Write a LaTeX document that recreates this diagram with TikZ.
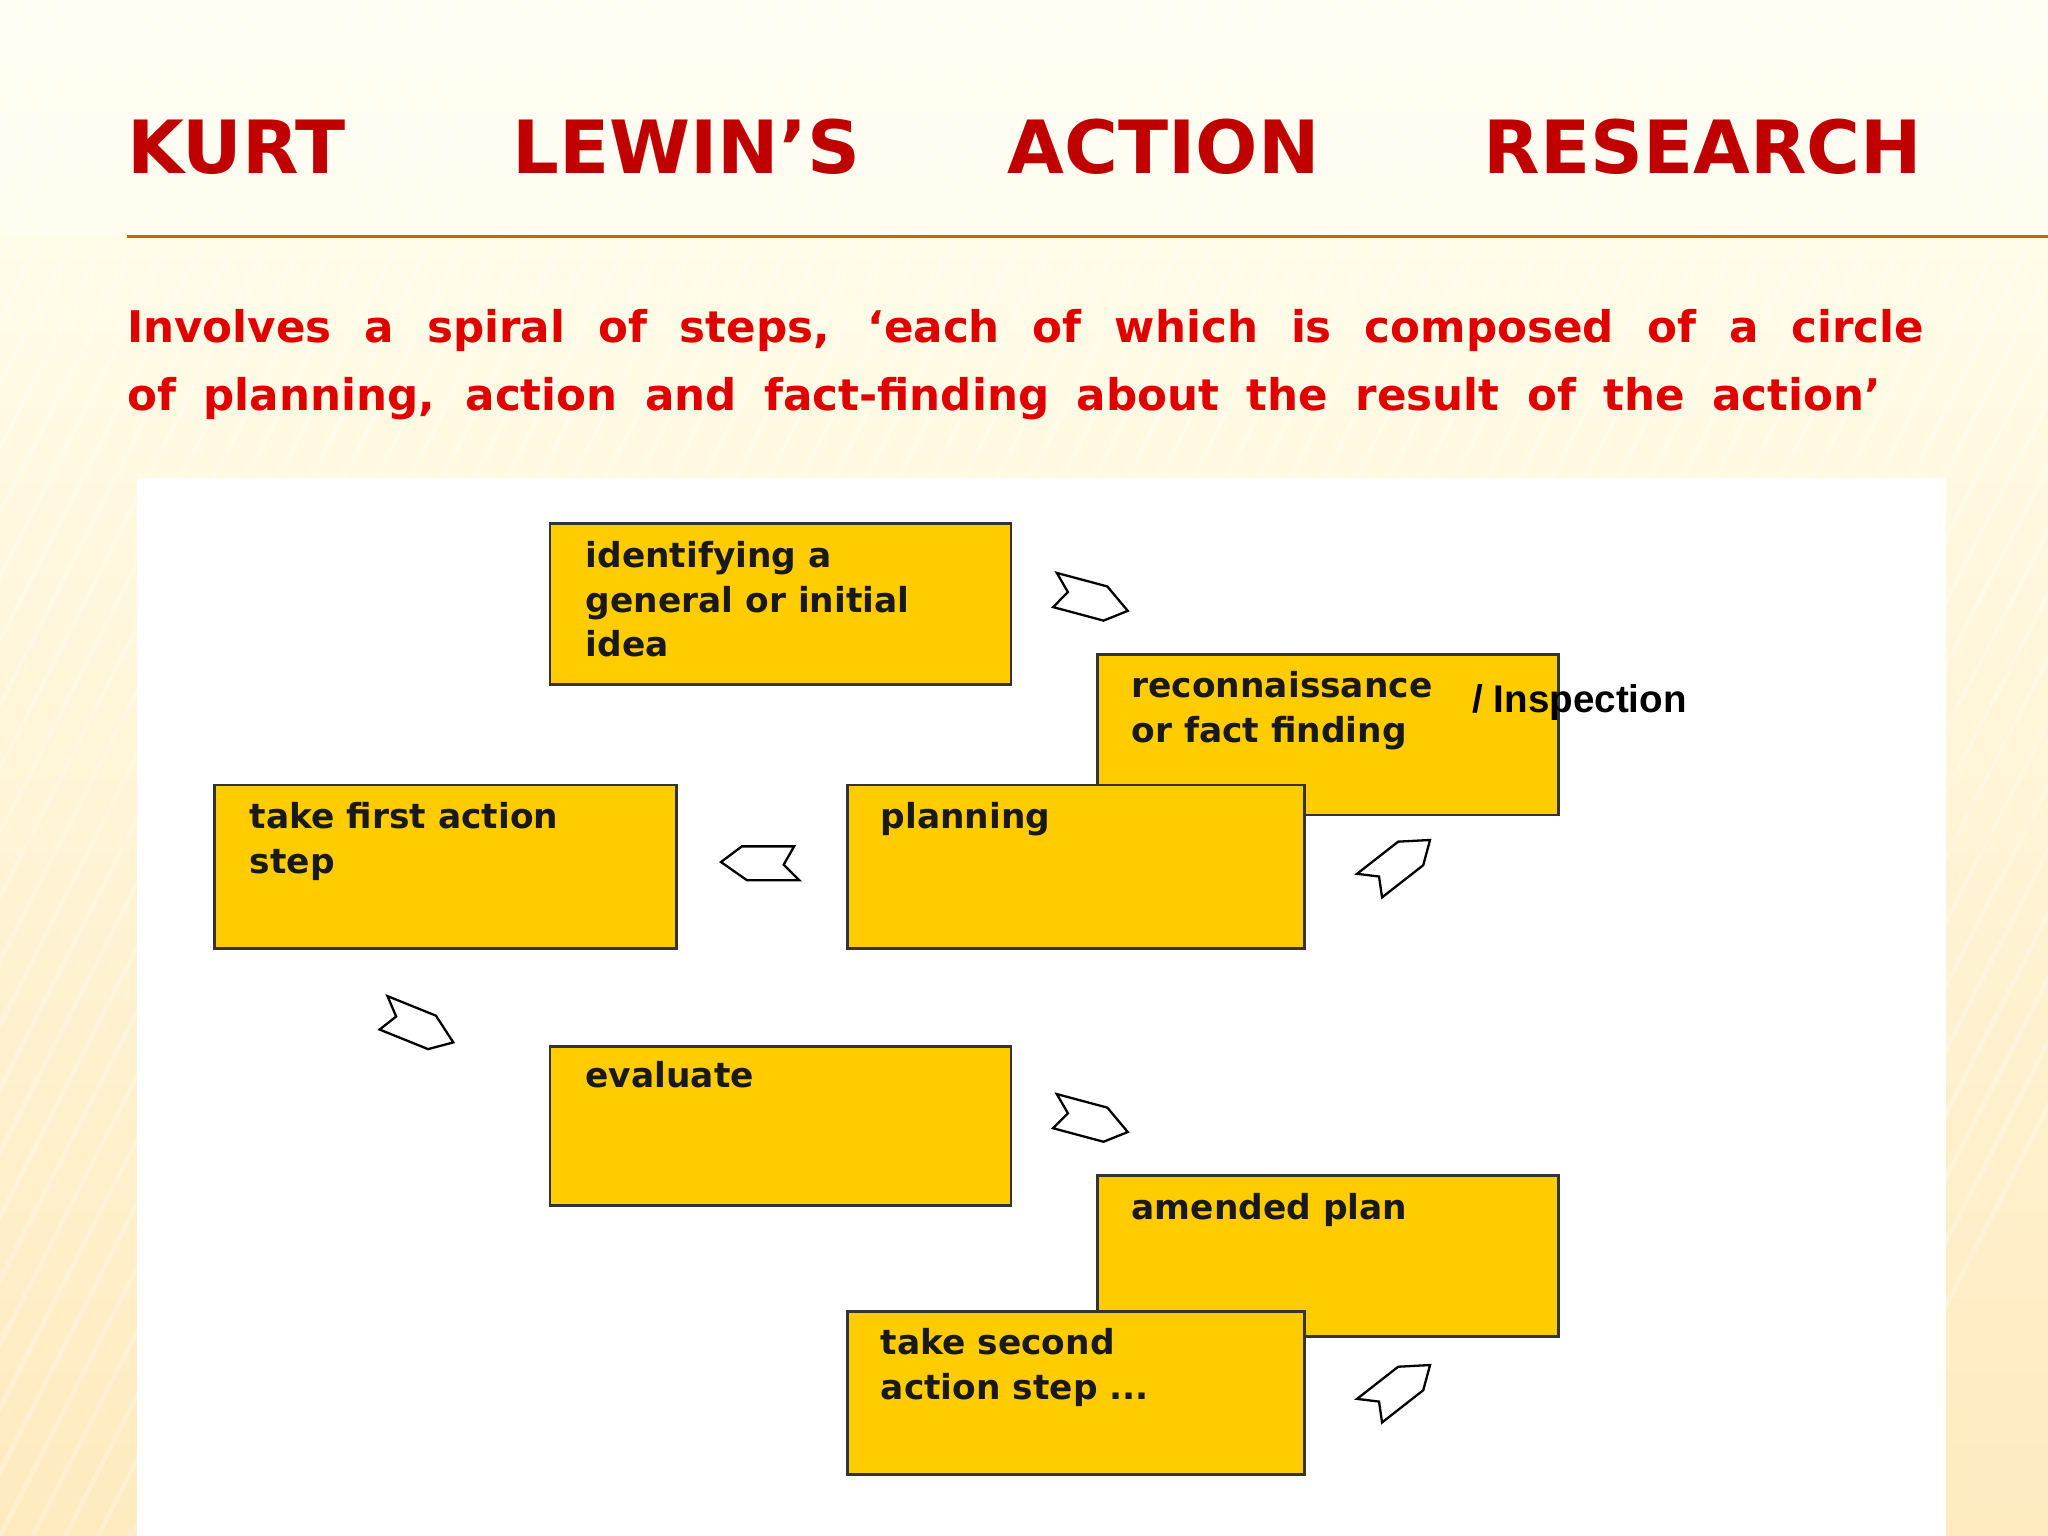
\documentclass[tikz,border=0pt]{standalone}
\usepackage{fontspec}
\setmainfont{DejaVu Sans}
\newfontfamily\boxfont{DejaVu Sans}
\newfontfamily\arialfont{Liberation Sans}
\begin{document}
\begin{tikzpicture}[x=0.02cm,y=-0.02cm,
  box/.style={draw=black!80,line width=1.2pt,fill=boxyel},
  boxtxt/.style={anchor=north west,align=left,inner sep=0,font=\boxfont\bfseries\fontsize{15}{19.5}\selectfont,text=black!90},
  chev/.style={draw=black,line width=1pt,fill=white}]
\definecolor{boxyel}{HTML}{FFCC00}
\definecolor{ttlred}{HTML}{C00000}
\definecolor{subred}{HTML}{E00000}
\useasboundingbox (0,0) rectangle (1568,1176);
\shade[top color=yellow!6,bottom color=yellow!35!orange!25] (0,0) rectangle (1568,1176);
\foreach \i in {-40,...,80} {\draw[white,opacity=0.25,line width=2pt] (\i*25,0) -- (\i*25-600,1176);}
\fill[yellow!4,opacity=0.6] (0,0) rectangle (1568,180);
\draw[orange!80!black,line width=1pt] (97,181) -- (1568,181);
\begin{scope}[font=\bfseries\fontsize{32}{32}\selectfont,text=ttlred]
\node[anchor=base west,inner sep=0] (t1) at (97,133) {KURT};
\node[anchor=base west,inner sep=0] (t2) at (392,133) {LEWIN’S};
\node[anchor=base west,inner sep=0] (t3) at (771,133) {ACTION};
\node[anchor=base east,inner sep=0] (t4) at (1472,133) {RESEARCH};
\end{scope}
\begin{scope}[text=subred,font=\bfseries\fontsize{19}{24}\selectfont]
\node[anchor=base west,inner sep=0] (s1) at (97,262) {\makebox[27.52cm][s]{Involves a spiral of steps, ‘each of which is composed of a circle}};
\node[anchor=base west,inner sep=0] (s2) at (97,314) {\makebox[26.86cm][s]{of planning, action and fact-finding about the result of the action’}};
\end{scope}
\fill[white] (105,366) rectangle (1490,1176);
\node[box,minimum width=7.06cm,minimum height=2.46cm,anchor=north west] (b1) at (420,400) {};
\node[boxtxt] at (448,414) {identifying a\\general or initial\\idea};
\node[box,minimum width=7.06cm,minimum height=2.46cm,anchor=north west] (b2) at (839,500) {};
\node[boxtxt] at (866,514) {reconnaissance\\or fact finding};
\node[box,minimum width=7cm,minimum height=2.5cm,anchor=north west] (b3) at (648,600) {};
\node[boxtxt] at (674,614) {planning};
\node[box,minimum width=7.08cm,minimum height=2.5cm,anchor=north west] (b4) at (163,600) {};
\node[boxtxt] at (191,614) {take first action\\step};
\node[box,minimum width=7.06cm,minimum height=2.44cm,anchor=north west] (b5) at (420,800) {};
\node[boxtxt] at (448,812) {evaluate};
\node[box,minimum width=7.06cm,minimum height=2.46cm,anchor=north west] (b6) at (839,899) {};
\node[boxtxt] at (866,913) {amended plan};
\node[box,minimum width=7cm,minimum height=2.5cm,anchor=north west] (b7) at (648,1003) {};
\node[boxtxt] at (674,1017) {take second\\action step ...};
\node[anchor=west,inner sep=0,font=\arialfont\bfseries\fontsize{16.8}{19}\selectfont] (insp) at (1127,538) {/ Inspection};
\def\chevron{(-30,-12) -- (10,-12) -- (30,2) -- (14,14) -- (-26,14) -- (-18,0) -- cycle}
\foreach \p/\r in {{(835,458)}/-15,{(1070,660)}/38,{(582,662)}/180,{(320,785)}/-22,{(835,857)}/-15,{(1070,1062)}/38}
  {\draw[chev,shift={\p},rotate=\r] \chevron;}
\end{tikzpicture}
\end{document}
